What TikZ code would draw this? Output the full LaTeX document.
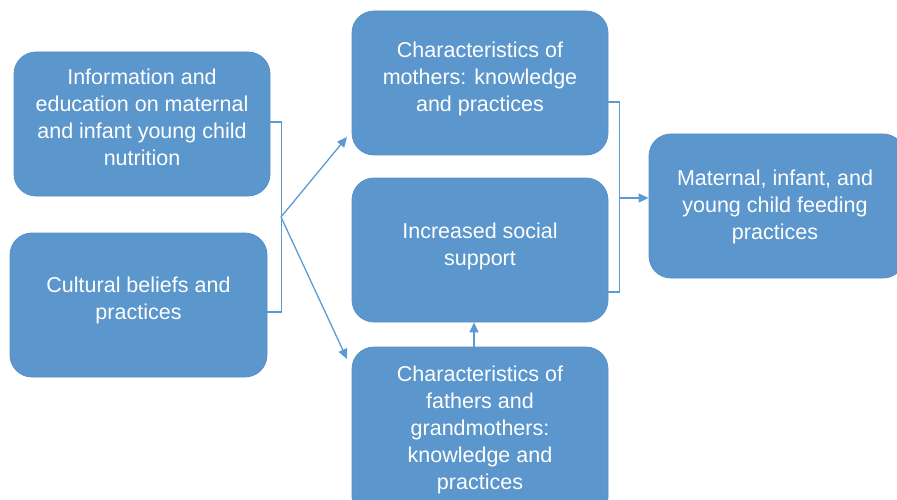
\documentclass[tikz,border=0pt]{standalone}
\usepackage{fontspec}
\setmainfont{Liberation Sans}
\usetikzlibrary{arrows.meta}
\definecolor{boxblue}{HTML}{5B96CC}
\definecolor{boxedge}{HTML}{5A8FC6}
\definecolor{linkblue}{HTML}{5B9BD5}
\begin{document}
\begin{tikzpicture}[x=1pt,y=-1pt,
  card/.style={fill=boxblue, draw=boxedge, line width=0.8pt, rounded corners=22pt,
    minimum width=256pt, minimum height=144pt, inner sep=0pt},
  label/.style={text=white, align=center, font=\fontsize{21.5}{27}\selectfont, inner sep=0pt},
  link/.style={draw=linkblue, line width=1.3pt},
  tip/.style={-{Triangle[length=10pt,width=9pt]}}]
\useasboundingbox (0,0) rectangle (897,500);
\clip (0,0) rectangle (897,500);

% boxes
\node[card] (info) at (142,124) {};
\node[card, minimum width=257pt] (culture) at (138.5,305) {};
\node[card] (mothers) at (480,83) {};
\node[card] (social) at (480,250) {};
\node[card, minimum height=172pt] (fathers) at (480,433) {};
\node[card] (outcome) at (777,206) {};

% texts
\node[label] (infoT) at (142,117) {Information and\\education on maternal\\and infant young child\\nutrition};
\node[label] (cultureT) at (138.5,300) {Cultural beliefs and\\practices};
\node[label] (mothersT) at (480,78.5) {Characteristics of\\mothers: knowledge\\and practices};
\node[label] (socialT) at (480,246) {Increased social\\support};
\node[label] (fathersT) at (480,429.5) {Characteristics of\\fathers and\\grandmothers:\\knowledge and\\practices};
\node[label] (outcomeT) at (775,207) {Maternal, infant, and\\young child feeding\\practices};

% left bracket and fork
\coordinate (lfork) at (281,217);
\coordinate (mothersIn) at (347,137);
\coordinate (fathersIn) at (347,359);
\draw[link] ([yshift=2pt]info.east) -- ++(11,0) |- ([yshift=-7pt]culture.east);
\draw[link,tip] (lfork) -- (mothersIn);
\draw[link,tip] (lfork) -- (fathersIn);

% right bracket and arrow to outcome
\coordinate (rfork) at (619,198);
\draw[link] ([yshift=-19pt]mothers.east) -- ++(11,0) |- ([yshift=-42pt]social.east);
\draw[link,tip] (rfork) -- (rfork -| outcome.west);

% fathers/grandmothers to social support
\draw[link,tip] ([xshift=-6pt]fathers.north) -- ([xshift=-6pt]social.south);
\end{tikzpicture}
\end{document}
